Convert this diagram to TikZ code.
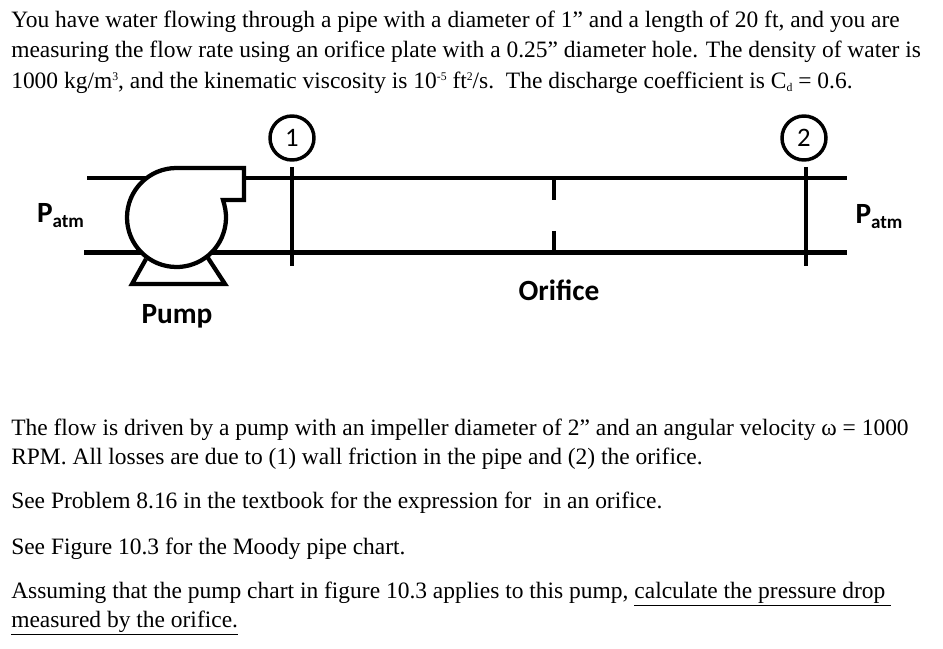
\documentclass[tikz,border=0pt]{standalone}
\usepackage{fontspec}
\setmainfont{Liberation Serif}
\newfontfamily\labelfont{Carlito}
\newcommand{\hi}[1]{\raisebox{0.75ex}{\scalebox{0.5}{#1}}}
\newcommand{\lo}[1]{\raisebox{-0.2ex}{\scalebox{0.5}{#1}}}
\begin{document}
\begin{tikzpicture}[x=0.75pt,y=-0.75pt]
    \tikzstyle{line} = [anchor=base west, inner sep=0pt, font=\fontsize{17.6}{20}\selectfont]
    \tikzstyle{pipe} = [line width=3.2pt, black]
    \tikzstyle{station} = [circle, draw, line width=2.6pt, inner sep=0pt, minimum size=33pt, font=\labelfont\fontsize{20}{22}\selectfont]
    \tikzstyle{tag} = [inner sep=0pt, font=\labelfont\bfseries\fontsize{22}{24}\selectfont]
    \useasboundingbox (0,0) rectangle (943,649);
    \node[line] (l1) at (11,28) {You have water flowing through a pipe with a diameter of 1” and a length of 20 ft, and you are};
    \node[line] (l2) at (11,58) {measuring the flow rate using an orifice plate with a 0.25” diameter hole. The density of water is};
    \node[line] (l3) at (11,89) {1000 kg/m\hi{3}, and the kinematic viscosity is 10\hi{-5} ft\hi{2}/s.\ \ The discharge coefficient is C\lo{d} = 0.6.};
    \node[line] (l4) at (11,435) {The flow is driven by a pump with an impeller diameter of 2” and an angular velocity ω = 1000};
    \node[line] (l5) at (11,464) {RPM. All losses are due to (1) wall friction in the pipe and (2) the orifice.};
    \node[line] (l6) at (11,508) {See Problem 8.16 in the textbook for the expression for\ \ in an orifice.};
    \node[line] (l7) at (11,554) {See Figure 10.3 for the Moody pipe chart.};
    \node[line] (l8) at (11,598) {Assuming that the pump chart in figure 10.3 applies to this pump, \underline{calculate the pressure drop\ }};
    \node[line] (l9) at (11,627) {\underline{measured by the orifice.}};
    \coordinate (topin) at (87,178);
    \coordinate (topout) at (847,178);
    \coordinate (botin) at (84,252.5);
    \coordinate (botout) at (847,252.5);
    \draw[pipe] (topin) -- (topout);
    \draw[pipe] (botin) -- (botout);
    \draw[pipe, line join=miter] (146,259) -- (132,284) -- (225,284) -- (208,258);
    \draw[pipe, fill=white, line join=miter] (176.5,168) arc[start angle=270, end angle=-15, radius=49.5] -- (223,200) -- (244,200) -- (244,168) -- cycle;
    \foreach \x/\c/\n in {292/292/1,806/804/2} {
        \node[station] (st\n) at (\c,138) {\n};
        \coordinate (sttop\n) at (\x,167);
        \coordinate (stbot\n) at (\x,266);
        \draw[pipe] (sttop\n) -- (stbot\n);
    }
    \coordinate (ortop) at (554,178);
    \coordinate (orlow) at (554,200);
    \coordinate (orhigh) at (554,231);
    \coordinate (orbot) at (554,252.5);
    \draw[pipe] (ortop) -- (orlow);
    \draw[pipe] (orhigh) -- (orbot);
    \node[tag] (patml) at (60.5,215.5) {P\raisebox{-0.35ex}{\fontsize{14.3}{16}\selectfont atm}};
    \node[tag] (patmr) at (879,216.5) {P\raisebox{-0.35ex}{\fontsize{14.3}{16}\selectfont atm}};
    \node[tag] (pumplabel) at (177,316) {Pump};
    \node[tag] (orificelabel) at (559,290) {Orifice};
\end{tikzpicture}
\end{document}
